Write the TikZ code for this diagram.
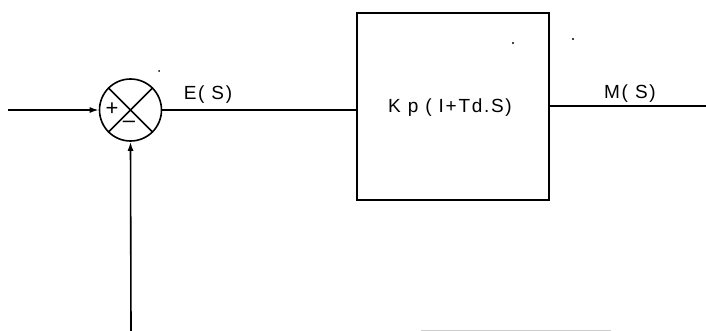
\documentclass[tikz,border=0pt]{standalone}
\usepackage{fontspec}
\setmainfont{Liberation Sans}
\usetikzlibrary{arrows.meta}
\begin{document}
\begin{tikzpicture}[x=1pt,y=-1pt,
  wire/.style={line width=1.6pt,black},
  arr/.style={wire,-{Latex[length=9pt,width=6pt]}},
  lbl/.style={font=\fontsize{19}{19}\selectfont\addfontfeature{LetterSpace=9},inner sep=0pt},
  sgn/.style={font=\fontsize{22}{22}\selectfont,inner sep=0pt},
  blk/.style={draw,line width=1.6pt,minimum width=192pt,minimum height=187pt,inner sep=0pt},
  sumj/.style={draw,circle,line width=1.6pt,minimum size=62pt,inner sep=0pt}]
\useasboundingbox (0,0) rectangle (706,331);
\node[sumj] (sum) at (130.5,110) {};
\draw[wire] (sum.north west) -- (sum.south east);
\draw[wire] (sum.north east) -- (sum.south west);
\node[sgn] (plus) at (112,109) {+};
\node[sgn] (minus) at (129,124) {\textendash};
\node[blk] (g) at (453,106.5) {};
\node[lbl] (gtxt) at (450,108) {K p ( I+Td.S)};
\coordinate (in) at (8,110);
\coordinate (fb) at (131,331);
\coordinate (out) at (706,106);
\draw[arr] (in) -- (sum.west);
\draw[arr] (fb) -- (sum.south);
\draw[wire] (sum.east) -- (sum.east -| g.west);
\draw[wire] (g.east |- out) -- (out);
\node[lbl] (e) at (208,95) {E( S)};
\node[lbl] (m) at (630,93.5) {M( S)};
\draw[line width=1pt,gray!40] (421,330) -- (611,330);
\fill (159,71) circle (1pt);
\fill (513,43) circle (1.2pt);
\fill (573,39) circle (1.2pt);
\end{tikzpicture}
\end{document}
